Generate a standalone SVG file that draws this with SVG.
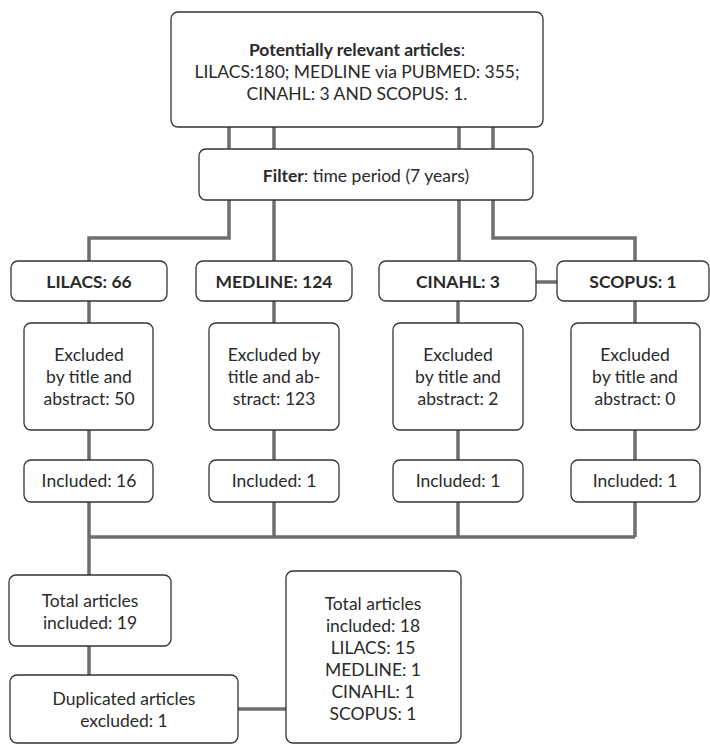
<svg xmlns="http://www.w3.org/2000/svg" width="710" height="744" viewBox="0 0 710 744">
<style>
.box{fill:#fff;stroke:#333;stroke-width:1.3}
.ln{fill:none;stroke:#6e6e70;stroke-width:3.5}
text{font-family:Lato,"Open Sans","Liberation Sans",sans-serif;font-size:17.5px;fill:#2a2a2a;text-anchor:middle}
.b{font-weight:bold}
</style>
<rect width="710" height="744" fill="#fff"/>
<g id="connectors">
<path class="ln" d="M229 127V238H89V262"/>
<path class="ln" d="M274 127V262"/>
<path class="ln" d="M459 127V262"/>
<path class="ln" d="M493 127V238H635V262"/>
<path class="ln" d="M536 282H557"/>
<path class="ln" d="M89 301V323M274 301V323M458 301V323M635 301V323"/>
<path class="ln" d="M89 430V460M274 430V460M458 430V460M635 430V460"/>
<path class="ln" d="M89 502V575M274 502V537M458 502V537M635 502V537M89 537H635"/>
<path class="ln" d="M89 646V675"/>
<path class="ln" d="M238 709H286"/>
</g>
<g id="n-potential">
<rect class="box" x="171" y="12" width="372" height="115" rx="7"/>
<text x="357" y="56"><tspan class="b">Potentially relevant articles</tspan>:</text>
<text x="357" y="78">LILACS:180; MEDLINE via PUBMED: 355;</text>
<text x="357" y="100">CINAHL: 3 AND SCOPUS: 1.</text>
</g>
<g id="n-filter">
<rect class="box" x="199" y="149" width="334" height="51" rx="7"/>
<text x="366" y="182"><tspan class="b">Filter</tspan>: time period (7 years)</text>
</g>
<g id="n-lilacs">
<rect class="box" x="11" y="261" width="156" height="40" rx="7"/>
<text class="b" x="89" y="288">LILACS: 66</text>
</g>
<g id="n-medline">
<rect class="box" x="196" y="261" width="156" height="40" rx="7"/>
<text class="b" x="274" y="288">MEDLINE: 124</text>
</g>
<g id="n-cinahl">
<rect class="box" x="379" y="261" width="157" height="40" rx="7"/>
<text class="b" x="458" y="288">CINAHL: 3</text>
</g>
<g id="n-scopus">
<rect class="box" x="557" y="261" width="152" height="40" rx="7"/>
<text class="b" x="633" y="288">SCOPUS: 1</text>
</g>
<g id="n-excl-lilacs">
<rect class="box" x="24" y="323" width="129" height="107" rx="7"/>
<text x="89" y="361">Excluded</text>
<text x="89" y="383">by title and</text>
<text x="89" y="405">abstract: 50</text>
</g>
<g id="n-excl-medline">
<rect class="box" x="209" y="323" width="130" height="107" rx="7"/>
<text x="274" y="361">Excluded by</text>
<text x="274" y="383">title and ab-</text>
<text x="274" y="405">stract: 123</text>
</g>
<g id="n-excl-cinahl">
<rect class="box" x="393" y="323" width="130" height="107" rx="7"/>
<text x="458" y="361">Excluded</text>
<text x="458" y="383">by title and</text>
<text x="458" y="405">abstract: 2</text>
</g>
<g id="n-excl-scopus">
<rect class="box" x="571" y="323" width="129" height="107" rx="7"/>
<text x="635" y="361">Excluded</text>
<text x="635" y="383">by title and</text>
<text x="635" y="405">abstract: 0</text>
</g>
<g id="n-inc-lilacs">
<rect class="box" x="24" y="460" width="129" height="42" rx="7"/>
<text x="89" y="487">Included: 16</text>
</g>
<g id="n-inc-medline">
<rect class="box" x="209" y="460" width="130" height="42" rx="7"/>
<text x="274" y="487">Included: 1</text>
</g>
<g id="n-inc-cinahl">
<rect class="box" x="393" y="460" width="130" height="42" rx="7"/>
<text x="458" y="487">Included: 1</text>
</g>
<g id="n-inc-scopus">
<rect class="box" x="571" y="460" width="129" height="42" rx="7"/>
<text x="635" y="487">Included: 1</text>
</g>
<g id="n-total19">
<rect class="box" x="9" y="575" width="162" height="71" rx="7"/>
<text x="90" y="607">Total articles</text>
<text x="90" y="629">included: 19</text>
</g>
<g id="n-duplicated">
<rect class="box" x="10" y="675" width="228" height="68" rx="7"/>
<text x="124" y="705">Duplicated articles</text>
<text x="124" y="727">excluded: 1</text>
</g>
<g id="n-total18">
<rect class="box" x="286" y="571" width="175" height="172" rx="7"/>
<text x="373" y="610">Total articles</text>
<text x="373" y="632">included: 18</text>
<text x="373" y="654">LILACS: 15</text>
<text x="373" y="676">MEDLINE: 1</text>
<text x="373" y="698">CINAHL: 1</text>
<text x="373" y="720">SCOPUS: 1</text>
</g>
</svg>
